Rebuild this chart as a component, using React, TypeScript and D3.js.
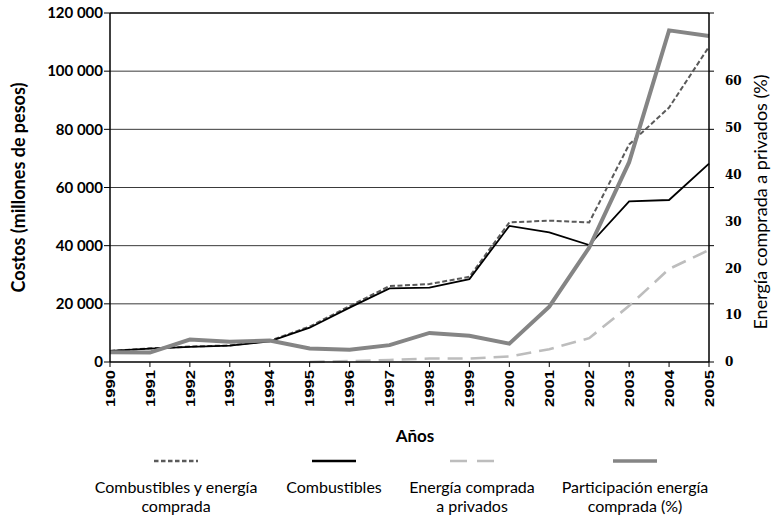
import * as d3 from 'd3';

// years on the x axis
const years = [1990, 1991, 1992, 1993, 1994, 1995, 1996, 1997, 1998, 1999, 2000, 2001, 2002, 2003, 2004, 2005];

// costs, millions of pesos (left axis)
const combustiblesYEnergia = [3800, 4700, 5300, 5700, 7300, 12200, 19200, 26100, 26800, 29300, 48000, 48600, 48000, 74800, 87500, 108400];
const combustibles = [3800, 4600, 5200, 5600, 7100, 11800, 18700, 25300, 25600, 28500, 46800, 44600, 40200, 55200, 55700, 68200];
const energiaPrivados: (number | null)[] = [null, null, null, null, null, 0, 300, 700, 1200, 1200, 1900, 4400, 8200, 19300, 32000, 38500];

// share of purchased energy, % (right axis)
const participacion = [2.1, 2.0, 4.8, 4.3, 4.6, 2.9, 2.6, 3.6, 6.2, 5.6, 3.9, 11.8, 24.4, 42.6, 70.7, 69.5];

const leftTicks = [0, 20000, 40000, 60000, 80000, 100000, 120000];
const rightTicks = [0, 10, 20, 30, 40, 50, 60];

const legendLabels = [
  ['Combustibles y energía', 'comprada'],
  ['Combustibles'],
  ['Energía comprada', 'a privados'],
  ['Participación energía', 'comprada (%)'],
];

const W = 771;
const H = 516;
const plot = { left: 110, right: 709, top: 13, bottom: 362 };
const legendX = [176, 334, 472, 635];

const styles = [
  { stroke: '#5a5a5a', width: 2, dash: '5,2.5' },
  { stroke: '#000', width: 1.8, dash: null },
  { stroke: '#bdbdbd', width: 2.6, dash: '15,8' },
  { stroke: '#858585', width: 4, dash: null },
];

const fmt = (v: number) => d3.format(',')(v).replace(/,/g, ' ');

export default function App() {
  const x = d3.scaleLinear().domain([1990, 2005]).range([plot.left, plot.right]);
  const y = d3.scaleLinear().domain([0, 120000]).range([plot.bottom, plot.top]);
  const y2 = d3.scaleLinear().domain([0, 74.4]).range([plot.bottom, plot.top]);

  const lineL = d3
    .line<number | null>()
    .defined((d) => d != null)
    .x((_, i) => x(years[i]))
    .y((d) => y(d as number));
  const lineR = d3
    .line<number>()
    .x((_, i) => x(years[i]))
    .y((d) => y2(d));

  const paths = [
    lineL(combustiblesYEnergia),
    lineL(combustibles),
    lineL(energiaPrivados),
    lineR(participacion),
  ];

  const sans = 'Lato, "Open Sans", sans-serif';

  return (
    <svg
      width={W}
      height={H}
      style={{ position: 'absolute', left: 0, top: 0, background: '#fff' }}
      fontFamily={sans}
    >
      {/* grid */}
      {leftTicks.slice(1).map((t) => (
        <line key={t} x1={plot.left} x2={plot.right} y1={y(t)} y2={y(t)} stroke={t === 120000 ? '#000' : '#3a3a3a'} strokeWidth={t === 120000 ? 1.5 : 1} />
      ))}

      {/* series */}
      {paths.map((d, i) => (
        <path
          key={i}
          d={d ?? ''}
          fill="none"
          stroke={styles[i].stroke}
          strokeWidth={styles[i].width}
          strokeDasharray={styles[i].dash ?? undefined}
        />
      ))}

      {/* axes */}
      <line x1={plot.left} x2={plot.left} y1={plot.top} y2={plot.bottom} stroke="#000" strokeWidth={1.5} />
      <line x1={plot.right} x2={plot.right} y1={plot.top} y2={plot.bottom} stroke="#000" strokeWidth={1.5} />
      <line x1={plot.left} x2={plot.right} y1={plot.bottom} y2={plot.bottom} stroke="#000" strokeWidth={1.5} />

      {leftTicks.map((t) => (
        <g key={t} transform={`translate(${plot.left},${y(t)})`}>
          <line x1={-6} x2={0} stroke="#000" />
          <line x1={plot.right - plot.left} x2={plot.right - plot.left + 5} stroke="#000" />
          <text x={-7} dy="0.35em" textAnchor="end" fontSize={15} fontWeight={700}>
            {fmt(t)}
          </text>
        </g>
      ))}

      {rightTicks.map((t) => (
        <text
          key={t}
          x={plot.right + 16}
          y={y2(t)}
          dy="0.36em"
          fontSize={12}
          fontWeight={700}
          fontFamily='"DejaVu Serif", serif'
        >
          {t}
        </text>
      ))}

      {years.map((yr) => (
        <g key={yr} transform={`translate(${x(yr)},${plot.bottom})`}>
          <line y1={0} y2={5} stroke="#000" />
          <text
            transform="translate(0,8) rotate(-90)"
            textAnchor="end"
            dy="0.36em"
            fontSize={13}
            fontWeight={700}
            fontFamily='"Liberation Sans", Arial, sans-serif'
            textLength={37}
            lengthAdjust="spacingAndGlyphs"
          >
            {yr}
          </text>
        </g>
      ))}

      {/* axis titles */}
      <text transform={`translate(19,${(plot.top + plot.bottom) / 2}) rotate(-90)`} textAnchor="middle" dy="0.35em" fontSize={18} fontWeight={700}>
        Costos (millones de pesos)
      </text>
      <text transform={`translate(761,202) rotate(-90)`} textAnchor="middle" dy="0.35em" fontSize={18}>
        Energía comprada a privados (%)
      </text>
      <text x={415} y={436} textAnchor="middle" dy="0.35em" fontSize={17} fontWeight={700}>
        Años
      </text>

      {/* legend */}
      {legendLabels.map((lines, i) => (
        <g key={i} transform={`translate(${legendX[i]},0)`}>
          <line
            x1={-22}
            x2={22}
            y1={461}
            y2={461}
            stroke={styles[i].stroke}
            strokeWidth={i === 3 ? 3.5 : 2.5}
            strokeDasharray={i === 0 ? '4.5,2.5' : i === 2 ? '17,10' : undefined}
          />
          {lines.map((l, j) => (
            <text key={j} x={0} y={487 + j * 19} dy="0.35em" textAnchor="middle" fontSize={16}>
              {l}
            </text>
          ))}
        </g>
      ))}
    </svg>
  );
}
